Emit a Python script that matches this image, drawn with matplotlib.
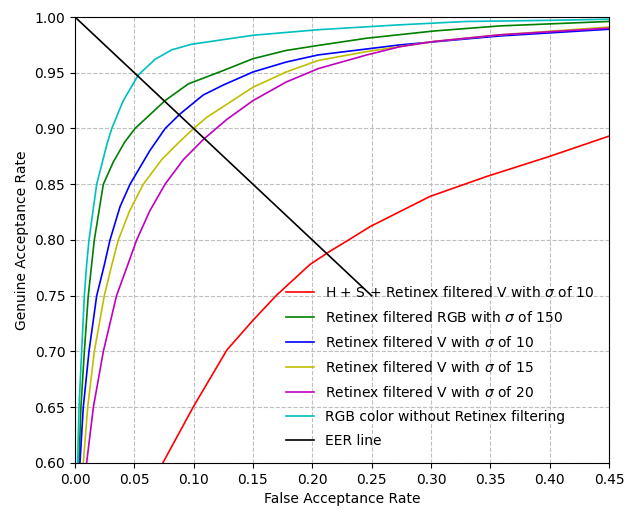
import matplotlib
matplotlib.use('Agg')
import matplotlib.pyplot as plt
import numpy as np

#curve values (FAR, GAR)
far_hsv = [0.074, 0.0998, 0.128, 0.150, 0.170, 0.198, 0.215, 0.229, 0.2487, 0.299, 0.347, 0.400, 0.4496]
gar_hsv = [0.60, 0.6505, 0.7013, 0.728, 0.7506, 0.778, 0.790, 0.799, 0.812, 0.839, 0.857, 0.875, 0.893]

far_rgb150 = [0.0034, 0.005, 0.0079, 0.0112, 0.014, 0.0163, 0.0239, 0.0323, 0.042, 0.0506, 0.0759, 0.0955, 0.125, 0.15, 0.178, 0.205, 0.246, 0.302, 0.358, 0.45]
gar_rgb150 = [0.60, 0.65, 0.70, 0.75, 0.7775, 0.80, 0.85, 0.870, 0.888, 0.90, 0.925, 0.940, 0.952, 0.9626, 0.970, 0.9745, 0.981, 0.9874, 0.992, 0.996]

far_v10 = [0.0042, 0.007, 0.0118, 0.0183, 0.0247, 0.0295, 0.038, 0.0464, 0.063, 0.076, 0.0885, 0.108, 0.125, 0.15, 0.178, 0.205, 0.274, 0.358, 0.45]
gar_v10 = [0.60, 0.65, 0.70, 0.75, 0.7775, 0.80, 0.83, 0.85, 0.880, 0.90, 0.913, 0.93, 0.939, 0.9507, 0.9596, 0.966, 0.975, 0.983, 0.989]

far_v15 = [0.007, 0.0107, 0.0163, 0.0247, 0.031, 0.0365, 0.046, 0.0576, 0.073, 0.087, 0.1, 0.111, 0.15, 0.178, 0.205, 0.246, 0.302, 0.358, 0.45]
gar_v15 = [0.60, 0.65, 0.70, 0.75, 0.7775, 0.80, 0.826, 0.85, 0.872, 0.887, 0.90, 0.91, 0.937, 0.9507, 0.961, 0.969, 0.978, 0.984, 0.991]

far_v20 = [0.0098, 0.0155, 0.0239, 0.035, 0.0444, 0.052, 0.063, 0.0759, 0.0913, 0.108, 0.1278, 0.15, 0.178, 0.205, 0.246, 0.274, 0.302, 0.358, 0.45]
gar_v20 = [0.60, 0.65, 0.70, 0.75, 0.7775, 0.80, 0.826, 0.85, 0.872, 0.890, 0.908, 0.925, 0.9417, 0.9537, 0.966, 0.9734, 0.978, 0.984, 0.990]

far_rgb = [0.0022, 0.0034, 0.0056, 0.0079, 0.0098, 0.0118, 0.0183, 0.0267, 0.031, 0.0407, 0.0534, 0.0674, 0.0815, 0.098, 0.15, 0.205, 0.274, 0.33, 0.40, 0.45]
gar_rgb = [0.60, 0.65, 0.70, 0.75, 0.7775, 0.80, 0.85, 0.885, 0.90, 0.925, 0.948, 0.962, 0.9705, 0.9755, 0.9836, 0.9886, 0.993, 0.996, 0.997, 0.998]

far_eer = [0.0, 0.25]
gar_eer = [1.0, 0.75]

labels = ['H + S + Retinex filtered V with $\\sigma$ of 10',
          'Retinex filtered RGB with $\\sigma$ of 150',
          'Retinex filtered V with $\\sigma$ of 10',
          'Retinex filtered V with $\\sigma$ of 15',
          'Retinex filtered V with $\\sigma$ of 20',
          'RGB color without Retinex filtering',
          'EER line']

fig = plt.figure(figsize=(6.37, 5.09), dpi=100)
ax = fig.add_axes([0.1177, 0.0904, 0.8383, 0.8762])

#draw curves
ax.plot(far_hsv, gar_hsv, color='r', lw=1.2, label=labels[0])
ax.plot(far_rgb150, gar_rgb150, color='g', lw=1.2, label=labels[1])
ax.plot(far_v10, gar_v10, color='b', lw=1.2, label=labels[2])
ax.plot(far_v15, gar_v15, color='y', lw=1.2, label=labels[3])
ax.plot(far_v20, gar_v20, color='m', lw=1.2, label=labels[4])
ax.plot(far_rgb, gar_rgb, color='c', lw=1.2, label=labels[5])
ax.plot(far_eer, gar_eer, color='k', lw=1.2, label=labels[6])

#axes and labels
ax.set_xlim(0, 0.45)
ax.set_ylim(0.6, 1.0)
ax.set_xticks(np.arange(0, 0.451, 0.05))
ax.set_yticks(np.arange(0.6, 1.001, 0.05))
ax.xaxis.set_major_formatter(matplotlib.ticker.FormatStrFormatter('%.2f'))
ax.yaxis.set_major_formatter(matplotlib.ticker.FormatStrFormatter('%.2f'))
ax.tick_params(labelsize=10)
ax.set_xlabel('False Acceptance Rate', fontsize=10)
ax.set_ylabel('Genuine Acceptance Rate', fontsize=10)
ax.grid(True, linestyle='--', color='0.75', linewidth=0.8)

ax.legend(loc='lower right', frameon=False, fontsize=10, handlelength=2.0,
          labelspacing=0.72, borderaxespad=0.7)

fig.savefig('out.png', dpi=100)
